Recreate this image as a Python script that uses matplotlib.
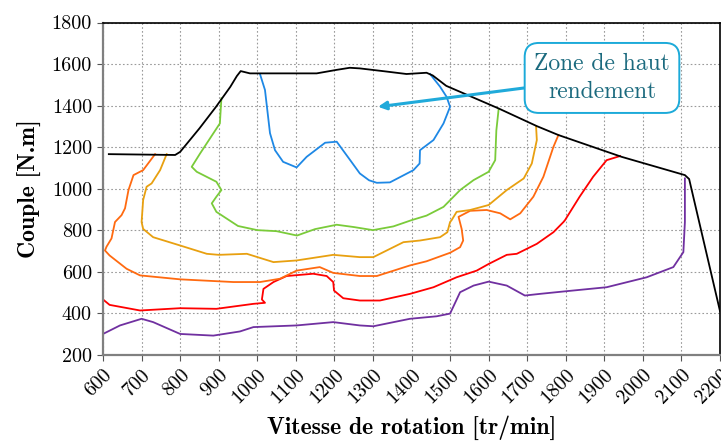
import matplotlib
matplotlib.use("Agg")
import matplotlib.pyplot as plt

plt.rcParams['axes.formatter.use_mathtext'] = True

# couple max (enveloppe)
env_x = [615, 787, 800, 850, 893, 930, 947, 957, 981, 1050, 1154, 1206, 1240, 1266, 1330, 1387,
         1439, 1455, 1490, 1626, 1725, 1781, 1945, 2109, 2120, 2200]
env_y = [1166, 1162, 1177, 1290, 1394, 1490, 1542, 1566, 1555, 1555, 1555, 1572, 1582, 1579, 1565, 1552,
         1558, 1545, 1495, 1386, 1301, 1258, 1153, 1065, 1046, 410]

# zone de haut rendement (bleu)
blue_x = [1007, 1020, 1033, 1046, 1067, 1102, 1128, 1176, 1206, 1241, 1266, 1290, 1310, 1344,
          1405, 1421, 1422, 1457, 1483, 1500, 1491, 1474, 1448]
blue_y = [1552, 1475, 1267, 1185, 1129, 1102, 1153, 1221, 1226, 1137, 1073, 1040, 1028, 1030,
          1089, 1121, 1185, 1234, 1314, 1394, 1442, 1491, 1552]

green_x = [907, 903, 886, 852, 830, 843, 894, 907, 894, 882, 894, 950, 1000, 1050, 1103, 1150,
           1206, 1250, 1300, 1353, 1400, 1439, 1483, 1526, 1561, 1600, 1617, 1620, 1626]
green_y = [1435, 1314, 1266, 1170, 1105, 1081, 1033, 993, 961, 929, 888, 820, 800, 795, 774, 805,
           826, 815, 800, 818, 848, 870, 912, 993, 1041, 1081, 1137, 1280, 1384]

gold_x = [765, 748, 726, 713, 704, 700, 704, 730, 800, 869, 900, 973, 1042, 1102, 1197, 1266,
          1301, 1327, 1379, 1422, 1474, 1493, 1500, 1504, 1517, 1552, 1600, 1647, 1691, 1712,
          1725, 1723]
gold_y = [1166, 1089, 1025, 1009, 945, 839, 806, 766, 726, 686, 681, 686, 646, 654, 681, 670,
          670, 694, 742, 750, 766, 790, 839, 848, 888, 897, 921, 993, 1049, 1121, 1234, 1301]

orange_x = [735, 704, 679, 666, 657, 648, 631, 622, 609, 605, 617, 661, 696, 800, 938, 1007,
            1059, 1102, 1162, 1197, 1266, 1310, 1396, 1439, 1500, 1526, 1534, 1530, 1522, 1552,
            1595, 1630, 1656, 1682, 1716, 1742, 1768, 1781]
orange_y = [1166, 1089, 1065, 993, 905, 872, 839, 760, 720, 702, 678, 614, 582, 563, 550, 550,
            566, 605, 622, 594, 579, 579, 630, 650, 691, 718, 750, 806, 864, 893, 897, 881, 852,
            881, 961, 1057, 1201, 1258]

red_x = [600, 617, 696, 800, 894, 990, 1020, 1012, 1016, 1042, 1076, 1145, 1180, 1197, 1199,
         1223, 1266, 1318, 1396, 1457, 1517, 1569, 1600, 1647, 1673, 1725, 1768, 1794, 1798,
         1836, 1871, 1906, 1941]
red_y = [466, 440, 413, 424, 421, 445, 450, 466, 517, 550, 579, 590, 579, 550, 509, 472, 461,
         461, 493, 525, 573, 605, 637, 681, 686, 734, 790, 839, 848, 961, 1057, 1137, 1157]

purple_x = [600, 644, 700, 730, 800, 886, 955, 990, 1102, 1197, 1266, 1301, 1396, 1465, 1500,
            1526, 1561, 1600, 1647, 1694, 1733, 1802, 1906, 2010, 2079, 2105, 2109, 2109]
purple_y = [300, 341, 373, 357, 300, 292, 312, 333, 341, 357, 341, 337, 373, 385, 398, 501, 533,
            552, 533, 485, 493, 506, 525, 573, 622, 694, 839, 1049]

x_ticks = list(range(600, 2201, 100))
y_ticks = list(range(200, 1801, 200))

fig = plt.figure(figsize=(7.21, 4.44), dpi=100)
ax = fig.add_axes([0.1429, 0.2011, 0.8557, 0.7482])

lw = 1.3
ax.plot(purple_x, purple_y, color='#7030A0', lw=lw)
ax.plot(red_x, red_y, color='#FF0000', lw=lw)
ax.plot(orange_x, orange_y, color='#FF6A10', lw=lw)
ax.plot(gold_x, gold_y, color='#E8A010', lw=lw)
ax.plot(green_x, green_y, color='#7ACB3A', lw=lw)
ax.plot(blue_x, blue_y, color='#1E88E5', lw=lw)
ax.plot(env_x, env_y, color='black', lw=lw)

ax.set_xlim(600, 2200)
ax.set_ylim(200, 1800)
ax.set_xticks(x_ticks)
ax.set_yticks(y_ticks)
ax.grid(True, color='#9a9a9a', linestyle=(0, (1.5, 2)), linewidth=0.8)
ax.set_axisbelow(True)

ax.set_xticklabels([str(v) for v in x_ticks], rotation=45, ha='right', va='top',
                   rotation_mode='anchor', fontfamily='cmr10', fontsize=14.5)
ax.set_yticklabels([str(v) for v in y_ticks], fontfamily='cmr10', fontsize=14.5)
ax.tick_params(axis='both', direction='out', length=4, width=0.8, color='#555555', pad=4)

for side in ['left', 'bottom']:
    ax.spines[side].set_color('#808080')
    ax.spines[side].set_linewidth(1.6)
for side in ['top', 'right']:
    ax.spines[side].set_color('black')
    ax.spines[side].set_linewidth(1.2)

ax.set_xlabel('Vitesse de rotation [tr/min]', fontfamily='cmb10', fontsize=17, labelpad=6)
ax.set_ylabel('Couple [N.m]', fontfamily='cmb10', fontsize=17, labelpad=7)

ax.annotate('Zone de haut\nrendement', xy=(1313, 1394), xytext=(1894, 1533),
            fontfamily='cmr10', fontsize=17, color='#1B6A7E', ha='center', va='center',
            linespacing=1.4,
            bbox=dict(boxstyle='round,pad=0.4,rounding_size=0.6', fc='white', ec='#1CAAD9', lw=1.4),
            arrowprops=dict(arrowstyle='-|>', color='#20AADA', lw=2.2, mutation_scale=12,
                            shrinkA=0, shrinkB=0))

fig.savefig('out.png', dpi=100)
